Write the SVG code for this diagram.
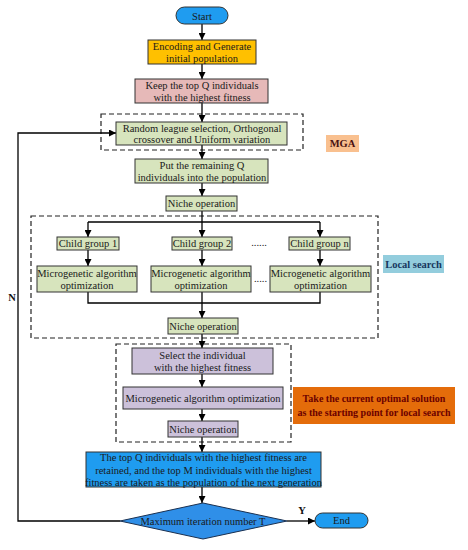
<svg xmlns="http://www.w3.org/2000/svg" width="468" height="550" viewBox="0 0 468 550">
<defs>
<marker id="ah" viewBox="0 0 10 10" refX="10" refY="5" markerWidth="7" markerHeight="7" markerUnits="userSpaceOnUse" orient="auto">
<path d="M0,0 L10,5 L0,10 z" fill="#000"/>
</marker>
<style>
.t{font-family:"Liberation Serif","Times New Roman",serif;font-size:10.5px;fill:#1a1a1a;text-anchor:middle}
.tb{font-family:"Liberation Serif","Times New Roman",serif;font-weight:bold;text-anchor:middle}
.box{stroke:#333;stroke-width:1}
.dash{fill:none;stroke:#222;stroke-width:1.2;stroke-dasharray:5,3}
.c{fill:none;stroke:#000;stroke-width:1.3}
.ca{fill:none;stroke:#000;stroke-width:1.3;marker-end:url(#ah)}
.green{fill:#D7E4BD}
.lav{fill:#CCC1DA}
.blue{fill:#1F9CF0}
</style>
</defs>
<rect width="468" height="550" fill="#fff"/>

<g id="regions">
<rect id="mga-region" class="dash" x="101" y="114" width="202" height="36"/>
<rect id="local-region" class="dash" x="31" y="216" width="347" height="122"/>
<rect id="start-region" class="dash" x="116" y="344" width="175" height="98"/>
</g>

<g id="connectors">
<line class="ca" x1="202" y1="24" x2="202" y2="40"/>
<line class="ca" x1="202" y1="64" x2="202" y2="79"/>
<line class="ca" x1="202" y1="103" x2="202" y2="122"/>
<line class="ca" x1="202" y1="145" x2="202" y2="159"/>
<line class="ca" x1="202" y1="183" x2="202" y2="196"/>
<line class="c" x1="202" y1="211" x2="202" y2="222"/>
<line class="c" x1="88" y1="222" x2="320" y2="222"/>
<line class="ca" x1="88" y1="222" x2="88" y2="237"/>
<line class="ca" x1="202" y1="222" x2="202" y2="237"/>
<line class="ca" x1="320" y1="222" x2="320" y2="237"/>
<line class="ca" x1="88" y1="250" x2="88" y2="266"/>
<line class="ca" x1="202" y1="250" x2="202" y2="266"/>
<line class="ca" x1="320" y1="250" x2="320" y2="266"/>
<polyline class="c" points="88,292 88,303 320,303 320,292"/>
<line class="c" x1="202" y1="292" x2="202" y2="303"/>
<line class="ca" x1="202" y1="303" x2="202" y2="318"/>
<line class="ca" x1="202" y1="334" x2="202" y2="348"/>
<line class="ca" x1="202" y1="374" x2="202" y2="387"/>
<line class="ca" x1="202" y1="409" x2="202" y2="421"/>
<line class="ca" x1="202" y1="437" x2="202" y2="452"/>
<line class="ca" x1="202" y1="487" x2="202" y2="503"/>
<line class="ca" x1="287" y1="521" x2="315" y2="521"/>
<polyline class="ca" points="120,521 18,521 18,133 116,133"/>
<text class="tb" x="302" y="514" font-size="10.5" fill="#111">Y</text>
<text class="tb" x="12" y="301" font-size="10.5" fill="#111">N</text>
</g>

<g id="start">
<rect class="box blue" x="176" y="7" width="52" height="17" rx="8.5" stroke="#0d3b5c"/>
<text class="t" x="202" y="19.5">Start</text>
</g>

<g id="encoding">
<rect class="box" x="148" y="40" width="108" height="24" fill="#FFC000"/>
<text class="t" x="202" y="50">Encoding and Generate</text>
<text class="t" x="202" y="61.5">initial population</text>
</g>

<g id="keep">
<rect class="box" x="135" y="79" width="133" height="24" fill="#E6B9B8"/>
<text class="t" x="202" y="89">Keep the top Q individuals</text>
<text class="t" x="202" y="100.5">with the highest fitness</text>
</g>

<g id="random">
<rect class="box green" x="116" y="122" width="171" height="23"/>
<text class="t" x="202" y="132">Random league selection, Orthogonal</text>
<text class="t" x="202" y="143">crossover and Uniform variation</text>
</g>

<g id="mga-label">
<rect x="326" y="135" width="33" height="17" fill="#F9C08F"/>
<text class="tb" x="342.5" y="147" font-size="10.5" fill="#4a1010">MGA</text>
</g>

<g id="put">
<rect class="box green" x="135" y="159" width="133" height="24"/>
<text class="t" x="202" y="169">Put the remaining Q</text>
<text class="t" x="202" y="180.5">individuals into the population</text>
</g>

<g id="niche1">
<rect class="box green" x="166" y="196" width="71" height="15"/>
<text class="t" x="201.5" y="207">Niche operation</text>
</g>

<g id="child1">
<rect class="box green" x="57" y="237" width="62" height="13"/>
<text class="t" x="88" y="247">Child group 1</text>
</g>
<g id="child2">
<rect class="box green" x="172" y="237" width="60" height="13"/>
<text class="t" x="202" y="247">Child group 2</text>
</g>
<text class="t" x="259" y="246">......</text>
<g id="childn">
<rect class="box green" x="289" y="237" width="61" height="13"/>
<text class="t" x="319.5" y="247">Child group n</text>
</g>

<g id="micro1">
<rect class="box green" x="37" y="266" width="100" height="26"/>
<text class="t" x="87" y="277">Microgenetic algorithm</text>
<text class="t" x="87" y="289">optimization</text>
</g>
<g id="micro2">
<rect class="box green" x="151" y="266" width="100" height="26"/>
<text class="t" x="201" y="277">Microgenetic algorithm</text>
<text class="t" x="201" y="289">optimization</text>
</g>
<text class="t" x="260.5" y="282">.....</text>
<g id="micro3">
<rect class="box green" x="270" y="266" width="101" height="26"/>
<text class="t" x="320.5" y="277">Microgenetic algorithm</text>
<text class="t" x="320.5" y="289">optimization</text>
</g>

<g id="niche2">
<rect class="box green" x="168" y="318" width="70" height="16"/>
<text class="t" x="203" y="329.5">Niche operation</text>
</g>

<g id="local-label">
<rect x="383" y="255" width="61" height="18" fill="#93CDDD"/>
<text class="tb" x="413.5" y="267.5" font-size="10.5" fill="#17375E">Local search</text>
</g>

<g id="select">
<rect class="box lav" x="132" y="348" width="141" height="26"/>
<text class="t" x="202.5" y="359">Select the individual</text>
<text class="t" x="202.5" y="371">with the highest fitness</text>
</g>

<g id="micro-opt">
<rect class="box lav" x="123" y="387" width="160" height="22"/>
<text class="t" x="203" y="401.5">Microgenetic algorithm optimization</text>
</g>

<g id="niche3">
<rect class="box lav" x="168" y="421" width="70" height="16"/>
<text class="t" x="203" y="432.5">Niche operation</text>
</g>

<g id="optimal-label">
<rect x="293" y="387" width="162" height="37" fill="#E46C0A"/>
<text class="tb" x="374" y="402" font-size="10" fill="#6b0000">Take the current optimal solution</text>
<text class="tb" x="374" y="416" font-size="10" fill="#6b0000">as the starting point for local search</text>
</g>

<g id="retain">
<rect class="box blue" x="86" y="452" width="235" height="35" stroke="#1a2a40"/>
<text class="t" x="203.5" y="461" fill="#0d2b45">The top Q individuals with the highest fitness are</text>
<text class="t" x="203.5" y="473.5" fill="#0d2b45">retained, and the top M individuals with the highest</text>
<text class="t" x="203.5" y="486" fill="#0d2b45">fitness are taken as the population of the next generation</text>
</g>

<g id="decision">
<polygon points="203,503 287,521 203,539 120,521" fill="#2F8FE8" stroke="#1a3050" stroke-width="1"/>
<text class="t" x="203" y="524.5" fill="#0d2b45">Maximum iteration number T</text>
</g>

<g id="end">
<rect class="box blue" x="315" y="513" width="53" height="15" rx="7.5" stroke="#0d3b5c"/>
<text class="t" x="341.5" y="524" fill="#0d2b45">End</text>
</g>
</svg>
